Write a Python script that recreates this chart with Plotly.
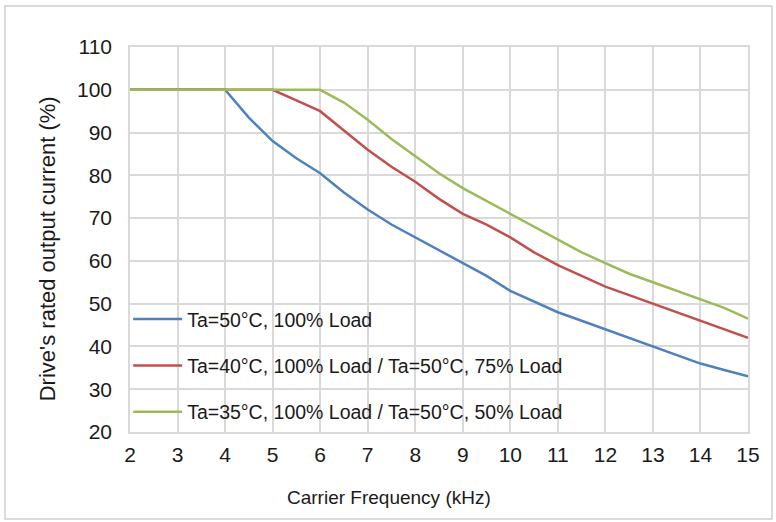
import plotly.graph_objects as go

# carrier frequency (kHz)
freq = [2, 3, 4, 4.5, 5, 5.5, 6, 6.5, 7, 7.5, 8, 8.5, 9, 9.5, 10, 10.5, 11, 11.5, 12, 12.5, 13, 13.5, 14, 14.5, 15]

# derating curves (% of rated output current)
ta50_100 = [100, 100, 100, 93.5, 88, 84, 80.5, 76, 72, 68.5, 65.5, 62.5, 59.5, 56.5, 53, 50.5, 48, 46, 44, 42, 40, 38, 36, 34.5, 33]
ta40_100 = [100, 100, 100, 100, 100, 97.5, 95, 90.5, 86, 82, 78.5, 74.5, 71, 68.5, 65.5, 62, 59, 56.5, 54, 52, 50, 48, 46, 44, 42]
ta35_100 = [100, 100, 100, 100, 100, 100, 100, 97, 93, 88.5, 84.5, 80.5, 77, 74, 71, 68, 65, 62, 59.5, 57, 55, 53, 51, 49, 46.5]

names = ["Ta=50°C, 100% Load",
         "Ta=40°C, 100% Load / Ta=50°C, 75% Load",
         "Ta=35°C, 100% Load / Ta=50°C, 50% Load"]
colors = ["#4F81BD", "#C0504D", "#9BBB59"]

fig = go.Figure()
for i, (ys, nm, col) in enumerate(zip([ta50_100, ta40_100, ta35_100], names, colors)):
    fig.add_trace(go.Scatter(x=freq, y=ys, name=nm, mode="lines",
                             legendgroup=str(i),
                             line=dict(color=col, width=2.5)))

fig.update_xaxes(
    range=[2, 15],
    dtick=1,
    showgrid=True, gridcolor="#D9D9D9", gridwidth=1.5,
    zeroline=False,
    showline=True, linecolor="#D9D9D9", linewidth=1.5, mirror=True,
    ticks="",
    ticklabelstandoff=3,
    tickfont=dict(size=21, color="#1a1a1a"))

fig.update_yaxes(
    range=[20, 110],
    dtick=10,
    showgrid=True, gridcolor="#D9D9D9", gridwidth=1.5,
    zeroline=False,
    showline=True, linecolor="#D9D9D9", linewidth=1.5, mirror=True,
    ticks="",
    ticklabelstandoff=12,
    tickfont=dict(size=21, color="#1a1a1a"))

# axis titles (centred on the chart box, not the plot area)
fig.add_annotation(text="Carrier Frequency (kHz)", xref="paper", yref="paper",
                   x=0.419, y=-0.169, xanchor="center", yanchor="middle",
                   showarrow=False, font=dict(size=19, color="#1a1a1a"))
fig.add_annotation(text="Drive's rated output current (%)", xref="paper", yref="paper",
                   x=-0.134, y=0.475, xanchor="center", yanchor="middle",
                   showarrow=False, textangle=-90,
                   font=dict(size=22, color="#1a1a1a"))

fig.update_layout(
    width=776, height=522,
    margin=dict(l=130, r=28, t=47, b=90),
    paper_bgcolor="white",
    plot_bgcolor="white",
    font_family="Liberation Sans",
    showlegend=True,
    legend=dict(x=-0.003, y=0.343, xanchor="left", yanchor="top",
                bgcolor="rgba(255,255,255,0)",
                font=dict(size=19.5, color="#1a1a1a"),
                tracegroupgap=18,
                itemwidth=49),
    shapes=[dict(type="rect", xref="paper", yref="paper",
                 x0=-0.2023, x1=1.0388, y0=-0.226, y1=1.1065,
                 line=dict(color="#D0D0D0", width=1.5))])

fig.write_html("out.html", config={"displayModeBar": False},
               post_script="document.body.style.margin='0px';")
